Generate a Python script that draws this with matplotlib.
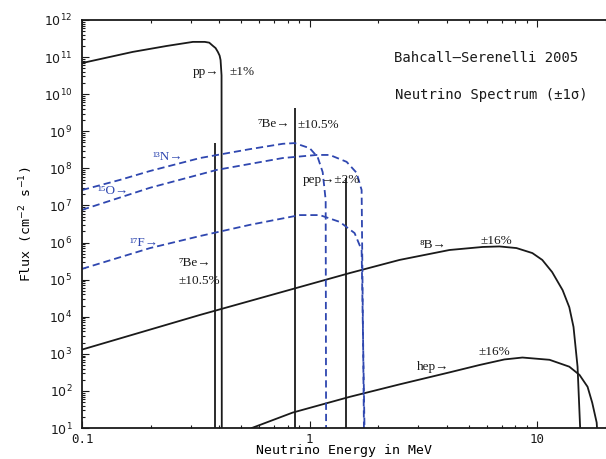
import matplotlib
matplotlib.use("Agg")
import matplotlib.pyplot as plt
from matplotlib.ticker import LogLocator, NullFormatter

# continuum spectra: energy (MeV), flux (cm^-2 s^-1 MeV^-1)
pp_E = [0.1, 0.167, 0.236, 0.307, 0.346, 0.362, 0.376, 0.386, 0.395, 0.402, 0.406, 0.410, 0.411]
pp_F = [6.9e10, 1.38e11, 2.0e11, 2.57e11, 2.57e11, 2.45e11, 2.0e11, 1.75e11, 1.38e11, 1.1e11, 8.3e10, 3.2e10, 10]

n13_E = [0.1, 0.147, 0.199, 0.33, 0.546, 0.762, 0.859, 1.0, 1.084, 1.14, 1.175, 1.18]
n13_F = [2.6e7, 4.9e7, 8.5e7, 1.9e8, 3.3e8, 4.6e8, 4.8e8, 3.5e8, 2.0e8, 7.9e7, 1.4e7, 10]

o15_E = [0.1, 0.199, 0.391, 0.762, 1.074, 1.224, 1.452, 1.606, 1.69, 1.73]
o15_F = [7.6e6, 3.0e7, 9.1e7, 1.9e8, 2.3e8, 2.3e8, 1.5e8, 7.6e7, 2.6e7, 10]

f17_E = [0.1, 0.199, 0.33, 0.546, 0.904, 1.107, 1.355, 1.574, 1.69, 1.74]
f17_F = [1.95e5, 7.1e5, 1.5e6, 3.0e6, 5.5e6, 5.5e6, 3.6e6, 1.8e6, 6.3e5, 10]

b8_E = [0.1, 0.33, 1.496, 2.48, 4.11, 5.74, 6.81, 8.09, 9.5, 10.5, 11.6, 12.9, 13.8, 14.4, 15.0, 15.4]
b8_F = [1.3e3, 1.12e4, 1.5e5, 3.4e5, 6.3e5, 7.6e5, 7.85e5, 7.1e5, 5.2e5, 3.4e5, 1.6e5, 5.2e4, 1.8e4, 5.3e3, 4.5e2, 10]

hep_E = [0.557, 0.841, 1.496, 2.48, 4.11, 5.57, 7.16, 8.59, 11.3, 13.8, 15.3, 16.6, 17.4, 18.2, 18.5]
hep_F = [10, 26, 69, 150, 316, 500, 705, 794, 690, 450, 270, 129, 48, 14, 3]

# line sources (cm^-2 s^-1): 7Be 0.384, 7Be 0.862, pep 1.442
line_E = [0.384, 0.862, 1.442]
line_F = [4.8e8, 4.3e9, 5.5e7]

x_ticks = [0.1, 1, 10]
x_ticklabels = ["0.1", "1", "10"]
y_ticks = [10.0 ** k for k in range(1, 13)]

BLUE = "#2f47b0"
INK = "#1a1a1a"
serif = ["Liberation Serif", "DejaVu Serif"]
mono = ["DejaVu Sans Mono", "DejaVu Sans"]

plt.rcParams["mathtext.fontset"] = "dejavusans"
fig = plt.figure(figsize=(6.06, 4.59), dpi=100)
ax = fig.add_axes([82 / 606, 31 / 459, 524 / 606, 408 / 459])

ax.plot(pp_E, pp_F, color=INK, lw=1.3)
ax.plot(b8_E, b8_F, color=INK, lw=1.3)
ax.plot(hep_E, hep_F, color=INK, lw=1.3)
ax.vlines(line_E, 1, line_F, color=INK, lw=1.3)

dash = (0, (4, 2.2))
for E, F in [(n13_E, n13_F), (o15_E, o15_F), (f17_E, f17_F)]:
    ax.plot(E, F, color=BLUE, lw=1.3, linestyle=dash)

ax.set_xscale("log")
ax.set_yscale("log")
ax.set_xlim(0.1, 20)
ax.set_ylim(10, 1e12)

ax.set_xticks(x_ticks)
ax.set_xticklabels(x_ticklabels, family=mono, fontsize=9)
ax.xaxis.set_minor_locator(LogLocator(base=10, subs=range(2, 10)))
ax.xaxis.set_minor_formatter(NullFormatter())
ax.set_yticks(y_ticks)
ax.yaxis.set_minor_locator(LogLocator(base=10, subs=range(2, 10), numticks=20))
ax.yaxis.set_minor_formatter(NullFormatter())
ax.tick_params(which="both", direction="in", top=True, right=False, colors=INK, width=0.8)
ax.tick_params(which="major", length=5, labelsize=9)
ax.tick_params(axis="y", which="major", pad=7)
ax.tick_params(which="minor", length=2.5)
for s in ax.spines.values():
    s.set_linewidth(1.3)
    s.set_color(INK)
ax.spines["right"].set_visible(False)

ax.set_xlabel("Neutrino Energy in MeV", family=mono, fontsize=9.5, labelpad=-1)
ax.set_ylabel("Flux (cm$^{-2}$ s$^{-1}$)", family=mono, fontsize=9.5, labelpad=6)

ax.text(0.771, 0.907, "Bahcall\u2013Serenelli 2005", transform=ax.transAxes,
        ha="center", va="center", family=mono, fontsize=10, color=INK)
ax.text(0.782, 0.816, "Neutrino Spectrum (\u00b11\u03c3)", transform=ax.transAxes,
        ha="center", va="center", family=mono, fontsize=10, color=INK)

lab = dict(family=serif, fontsize=9.5, color=INK, va="center")
ax.text(0.40, 4.0e10, "pp\u2192", ha="right", **lab)
ax.text(0.446, 4.0e10, "\u00b11%", ha="left", **lab)
ax.text(0.82, 1.6e9, "\u2077Be\u2192", ha="right", **lab)
ax.text(0.885, 1.5e9, "\u00b110.5%", ha="left", **lab)
ax.text(0.264, 2.8e5, "\u2077Be\u2192", ha="left", **lab)
ax.text(0.264, 9.2e4, "\u00b110.5%", ha="left", **lab)
ax.text(0.93, 4.9e7, "pep\u2192\u00b12%", ha="left", **lab)
ax.text(3.03, 8.7e5, "\u2078B\u2192", ha="left", **lab)
ax.text(5.6, 1.1e6, "\u00b116%", ha="left", **lab)
ax.text(2.97, 450, "hep\u2192", ha="left", **lab)
ax.text(5.5, 1.1e3, "\u00b116%", ha="left", **lab)

blab = dict(family=serif, fontsize=9.5, color=BLUE, va="center", ha="left")
ax.text(0.205, 2.0e8, "\u00b9\u00b3N\u2192", **blab)
ax.text(0.1175, 2.5e7, "\u00b9\u2075O\u2192", **blab)
ax.text(0.162, 9.8e5, "\u00b9\u2077F\u2192", **blab)

fig.savefig("out.png", dpi=100)
